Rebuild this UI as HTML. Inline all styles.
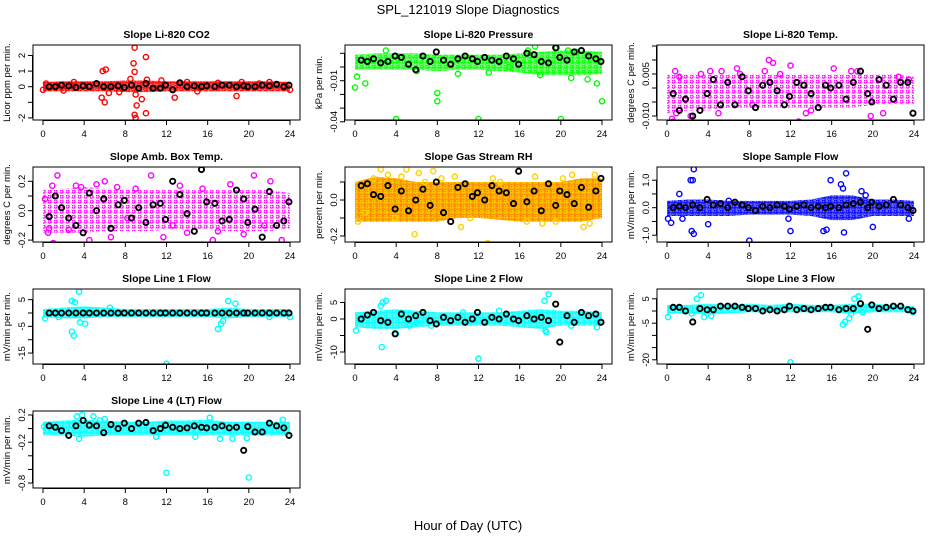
<!DOCTYPE html>
<html><head><meta charset="utf-8"><style>
html,body{margin:0;padding:0;background:#fff}
svg{display:block;font-family:"Liberation Sans",sans-serif}
</style></head><body>
<svg id="chart" width="936" height="540" viewBox="0 0 936 540">
<defs id="defs"></defs>
<text x="468" y="14" text-anchor="middle" font-size="13">SPL_121019  Slope Diagnostics</text>
<text x="468" y="530" text-anchor="middle" font-size="13">Hour of Day (UTC)</text>
</svg>
<script>
const hourTicks=[0,4,8,12,16,20,24];
const bandHours=[0,2,4,6,8,10,12,14,16,18,20,22,24];
const blackT=[0.6,1.2,1.8,2.5,3.2,3.9,4.5,5.2,5.9,6.6,7.3,7.9,8.6,9.3,10,10.7,11.4,11.9,12.6,13.3,14,14.7,15.4,15.9,16.7,17.4,18.1,18.8,19.5,19.9,20.6,21.3,22,22.7,23.4,23.9];

// Panel 1 CO2
const p1Lo=[-0.3,-0.3,-0.3,-0.3,-0.35,-0.35,-0.3,-0.3,-0.3,-0.3,-0.3,-0.3,-0.3];
const p1Hi=[0.3,0.35,0.35,0.35,0.4,0.4,0.35,0.35,0.35,0.35,0.35,0.35,0.3];
const p1CT=[0,0.3,2,5.8,6.1,5.7,6,8.9,8.8,8.9,10,9,9.1,8.9,9,10,9.6,8.5,11.5,12.8,18.8,19.3,6.4,7.4,10.1,14,17,22,24,3,15,21];
const p1CV=[-0.2,0.2,-0.25,1.0,1.1,-0.7,-1.0,2.5,1.5,0.95,1.9,-0.5,-1.2,-1.8,-2.0,-1.7,-0.8,0.5,0.4,-0.7,-0.6,0.3,-0.4,-0.35,0.45,0.3,0.25,0.3,-0.2,0.3,-0.3,0.2];
const p1BV=[0,0,0.1,0.05,-0.05,0.05,0,0.2,0,0,0.05,-0.05,0.1,-0.1,0.2,-0.1,-0.1,0.1,-0.2,0.25,0,0.05,0,0.05,0,0.1,0.1,0,0.05,0,0,0.1,0.05,0.15,0,0.1];

// Panel 2 Pressure
const p2Lo=[-0.002,-0.002,-0.002,-0.002,-0.003,-0.002,-0.002,-0.003,-0.004,-0.006,-0.006,-0.006,-0.005];
const p2Hi=[0.009,0.010,0.010,0.010,0.009,0.009,0.009,0.009,0.010,0.011,0.012,0.012,0.011];
const p2CT=[0,0.2,1,4,4,8,8,12,20,24,17.5,16.8,20.7,21.5,19.6,22.8,23.5,6,10,13,15,18,21,22.6,3];
const p2CV=[-0.015,-0.007,-0.012,-0.038,-0.038,-0.019,-0.025,-0.038,-0.038,-0.025,0.015,0.012,0.012,0.011,0.014,0.008,-0.012,-0.003,-0.005,-0.004,0.0,-0.006,-0.008,-0.009,0.012];
const p2BV=[0.005,0.004,0.006,0.003,0.004,0.008,0.007,0.002,-0.002,0.008,0.004,0.011,0.005,0.002,0.006,0.008,0.006,0.004,0.007,0.005,0.004,0.008,0.006,0.002,0.01,0.009,0.004,0.003,0.014,0.007,0.005,0.011,0.012,0.008,0.006,0.004];

// Panel 3 Li-820 Temp
const p3Lo=[-0.009,-0.008,-0.008,-0.007,-0.007,-0.007,-0.007,-0.007,-0.007,-0.007,-0.006,-0.006,-0.006];
const p3Hi=[0.005,0.005,0.005,0.005,0.005,0.005,0.005,0.005,0.005,0.005,0.005,0.005,0.004];
const p3CT=[0.2,0.5,0.8,1.2,0.6,4.2,5.3,6.8,7.1,9.5,9.9,10.3,12,12.8,14,15.9,16.2,17.9,0.9,2.3,5,8.3,11,13.5,18.5,21,22.5,23.5,3.3,19.8];
const p3CV=[-0.014,-0.011,0.006,0.004,-0.012,0.006,0.006,0.007,0.005,0.006,0.010,0.009,0.008,-0.012,-0.008,-0.013,0.007,0.006,-0.009,-0.01,-0.009,-0.006,0.005,-0.009,0.006,-0.009,0.004,0.003,0.005,-0.010];
const p3BV=[-0.002,-0.008,-0.004,-0.01,-0.008,-0.002,0.003,-0.006,0.002,-0.006,0.004,-0.001,-0.007,0.001,0.002,-0.001,-0.006,-0.003,0.002,0.001,-0.002,-0.007,0.001,0.0,0.001,-0.004,0.002,0.006,-0.002,-0.005,0.003,0.001,-0.004,0.002,0.002,-0.009];

// Panel 4 Amb Box Temp
const p4Lo=[-0.15,-0.15,-0.15,-0.14,-0.14,-0.14,-0.13,-0.13,-0.13,-0.14,-0.14,-0.14,-0.12];
const p4Hi=[0.15,0.15,0.16,0.15,0.15,0.14,0.14,0.14,0.14,0.14,0.14,0.14,0.12];
const p4CT=[0.2,0.6,1,0.9,1.4,2.5,3.2,4.5,5.2,6.6,7.2,10.5,11.7,12.6,13.3,14,15.5,17,18.2,20.5,21.5,23.2,0.5,3.7,9,16.5,19.5,22.1,8.2,6];
const p4CV=[0.08,-0.12,-0.22,0.17,0.24,-0.13,0.17,-0.2,0.18,-0.18,0.16,0.24,-0.18,-0.1,0.17,-0.15,0.15,-0.14,0.18,0.24,-0.1,-0.2,-0.15,0.16,0.15,-0.2,-0.16,0.2,-0.05,0.2];
const p4BV=[-0.04,0.1,0.02,-0.05,-0.1,-0.15,0.12,0,0.08,-0.12,0.04,0.07,-0.05,0.02,-0.08,0.04,0.05,-0.06,0.2,0.11,-0.02,-0.14,0.28,0.06,0.05,-0.07,-0.06,0.14,0.08,-0.08,0.01,-0.18,0.13,-0.1,-0.07,0.06];

// Panel 5 RH
const p5Lo=[-0.12,-0.12,-0.12,-0.12,-0.12,-0.1,-0.1,-0.11,-0.12,-0.12,-0.12,-0.12,-0.1];
const p5Hi=[0.1,0.13,0.12,0.1,0.1,0.1,0.1,0.1,0.1,0.1,0.1,0.12,0.12];
const p5CT=[0.3,1.8,2.5,3.2,4.5,5.8,6.2,6.8,7.6,8.4,10.3,12.9,13.4,14.1,18.2,19.5,21.1,22.8,23.3,22.2,5,1,3.9,9.7,11.2,16.7,20.2,17.5];
const p5CV=[-0.12,0.12,0.17,0.14,0.13,-0.19,0.15,0.1,0.16,0.12,-0.15,-0.24,0.12,0.1,-0.13,-0.12,0.14,-0.13,0.14,-0.15,0.17,-0.07,-0.1,0.13,-0.1,-0.12,0.12,0.13];
const p5BV=[0.08,0.09,0.03,0.02,0.08,-0.05,0.05,-0.06,0.0,0.06,-0.03,0.1,-0.07,-0.12,0.07,0.09,0.02,0.04,0.0,0.08,0.05,0.04,-0.02,0.16,-0.01,0.05,-0.06,0.09,-0.03,0.05,0.03,-0.02,0.07,-0.04,0.05,0.12];

// Panel 6 Sample Flow
const p6Lo=[-0.3,-0.3,-0.3,-0.3,-0.25,-0.25,-0.25,-0.3,-0.45,-0.45,-0.3,-0.3,-0.3];
const p6Hi=[0.25,0.3,0.3,0.25,0.25,0.25,0.25,0.3,0.45,0.45,0.3,0.3,0.25];
const p6CT=[0.1,0.4,1.2,2.3,2.5,2.6,2.4,2.6,4,8,12,15.5,15.9,15.2,16.9,17.1,17.4,17.2,18.9,20,1.5,11.8,19.3,23.5,6];
const p6CV=[-0.4,-0.55,0.5,1.0,1.0,1.4,-0.85,-0.95,-0.6,-1.2,-0.85,-0.8,1.0,-0.85,0.85,0.7,1.25,-0.9,0.6,-0.7,-0.4,-0.4,0.45,-0.4,0.25];
const p6BV=[0.0,0.05,0.0,0.1,0.0,0.3,0.1,0.15,0.0,0.2,0.1,0.0,-0.1,0.05,0.0,0.1,0.05,-0.05,0.05,0.1,0.0,0.05,0.0,0.05,0.0,0.1,0.15,0.2,0.0,0.2,0.05,0.1,0.3,0.1,0.0,-0.1];

// Panel 7 Line 1 Flow
const p7Lo=[-1.5,-2,-2,-1.5,-1.5,-1.5,-1.5,-1.5,-1.5,-2,-1.5,-1.5,-1.5];
const p7Hi=[1.5,2,2.5,2,1.5,1.5,1.5,1.5,1.5,2,1.5,1.5,1.5];
const p7CT=[2.8,3.1,3.5,2.8,3.0,3.6,4.1,12,17,17.3,18,18.7,17.5,0.2,24,1.5,6.5,22];
const p7CV=[4.5,4,8,-7,-8.5,-3.5,-4,-19,-6,-4,4.5,3.5,-3,-2,-1.5,-1.5,2,-1.5];
const p7BV=[0,0,0,0,0,0,0,0,0,0,0,0,0,0,0,0,0,0,0,0,0,0,0,0,0,0,0,0,0,0,0,0,0,0,0,0];

// Panel 8 Line 2 Flow
const p8Lo=[-2.5,-3,-3,-2.5,-2,-2,-2,-2,-2.5,-3,-2,-2,-2];
const p8Hi=[2,2.5,3,2.5,2,2,2,2,2.5,3,2.5,2.5,2];
const p8CT=[0.1,2.5,2.7,3,2.6,4,5.3,7.4,12,18.5,18.8,18.4,18.6,6,21,23.5,10.5,14];
const p8CV=[-3.5,4,5,5.5,-8.5,-4.5,-2,-2,-12,-3.5,7.5,5.5,-4,-1,-2,-2.5,2,2.5];
const p8BV=[0,1.2,2,-0.5,-1,-4.5,1.5,0,1,2,-0.5,-1.5,0.5,-0.5,0.5,-1,0,2,-1,0.5,0,1.5,0,-0.5,1,0,0.5,-0.5,4.5,-7,1,-1,2,1,1.5,-1];

// Panel 9 Line 3 Flow
const p9Lo=[-1,-1,-1.5,-1,-0.5,-0.5,-0.5,-0.5,-0.5,-1,-0.5,-0.5,-0.5];
const p9Hi=[2.5,2.5,3,2.5,3,2.5,3,2.5,2.5,3,3,2.5,2];
const p9CT=[0.1,2.9,3.3,3.6,4.3,12,17.1,17.3,17.7,17.9,18.2,18.6,2.4,19,23.9];
const p9CV=[-2.5,5,6.5,-2.5,-2,-21,-5.5,-4.5,-3,-1,5,6,-1,-0.5,-0.5];
const p9BV=[1.5,1.5,0,-4.5,1,0.5,0.5,2,2,2,1.5,1,1,0,0.5,0,0.5,2,0.5,1,0.5,1,1.5,1.5,0.5,1,1,3,-7.5,2.5,1,1.5,2,2,0.5,0];

// Panel 10 Line 4 (LT) Flow
const p10Lo=[-0.1,-0.1,-0.12,-0.1,-0.1,-0.1,-0.1,-0.1,-0.1,-0.1,-0.1,-0.1,-0.1];
const p10Hi=[0.1,0.12,0.13,0.12,0.1,0.1,0.12,0.12,0.13,0.1,0.1,0.1,0.1];
const p10CT=[0.1,2.8,3.3,3.8,4,4.9,5.5,6,11,12,16.2,17.2,19.8,20,23.3,3.5,14.8,18.4];
const p10CV=[0.03,0.05,0.18,0.2,-0.95,0.18,0.12,0.14,-0.12,-0.65,0.16,-0.15,-0.14,-0.72,0.13,-0.15,-0.12,-0.15];
const p10BV=[0.04,0.02,-0.03,-0.1,0.04,0.12,0.05,0.04,-0.06,0.06,0,0.08,0,0.08,0.09,-0.03,0,0.05,0.02,0,0.01,0.04,0.02,0.01,0.02,0.04,0.01,0.02,-0.32,0.03,-0.05,-0.05,0.08,0.04,0.01,-0.1];

const panels=[
 {name:'co2',title:'Slope Li-820 CO2',ylab:'Licor ppm per min.',c:0,r:0,col:'#ff0000',y0:86.7,s:15.6,ticks:[-2,-1,0,1,2],labs:['-2','','0','1','2'],lo:p1Lo,hi:p1Hi,ct:p1CT,cv:p1CV,bv:p1BV,dense:0.75},
 {name:'pressure',title:'Slope Li-820 Pressure',ylab:'kPa per min.',c:1,r:0,col:'#00ff00',y0:67,s:1370,ticks:[0.01,0,-0.01,-0.02,-0.03,-0.04],labs:['','','-0.01','','','-0.04'],lo:p2Lo,hi:p2Hi,ct:p2CT,cv:p2CV,bv:p2BV,dense:0.6},
 {name:'licor-temp',title:'Slope Li-820 Temp.',ylab:'degrees C per min.',c:2,r:0,col:'#ff00ff',y0:88,s:2800,ticks:[0.015,0.01,0.005,0,-0.005,-0.01],labs:['','','0.005','','','-0.010'],lo:p3Lo,hi:p3Hi,ct:p3CT,cv:p3CV,bv:p3BV,dense:0.25},
 {name:'amb-box-temp',title:'Slope Amb. Box Temp.',ylab:'degrees C per min.',c:0,r:1,col:'#ff00ff',y0:210.7,s:147,ticks:[0.2,0.1,0,-0.1,-0.2],labs:['0.2','','0.0','','-0.2'],lo:p4Lo,hi:p4Hi,ct:p4CT,cv:p4CV,bv:p4BV,dense:0.25},
 {name:'gas-rh',title:'Slope Gas Stream RH',ylab:'percent per min.',c:1,r:1,col:'#ffd000',back:'#ff8a00',y0:200,s:180,ticks:[0.1,0,-0.1,-0.2],labs:['','0.0','','-0.2'],lo:p5Lo,hi:p5Hi,ct:p5CT,cv:p5CV,bv:p5BV,dense:0.45},
 {name:'sample-flow',title:'Slope Sample Flow',ylab:'mV/min per min.',c:2,r:1,col:'#0000ff',y0:207.7,s:27.5,ticks:[1,0.5,0,-0.5,-1],labs:['1.0','','0.0','','-1.0'],lo:p6Lo,hi:p6Hi,ct:p6CT,cv:p6CV,bv:p6BV,dense:0.7},
 {name:'line1-flow',title:'Slope Line 1 Flow',ylab:'mV/min per min.',c:0,r:2,col:'#00ffff',y0:313,s:2.67,ticks:[5,0,-5,-10,-15],labs:['5','','-5','','-15'],lo:p7Lo,hi:p7Hi,ct:p7CT,cv:p7CV,bv:p7BV,dense:0.75},
 {name:'line2-flow',title:'Slope Line 2 Flow',ylab:'mV/min per min.',c:1,r:2,col:'#00ffff',y0:319,s:3.3,ticks:[5,0,-5,-10],labs:['5','0','','-10'],lo:p8Lo,hi:p8Hi,ct:p8CT,cv:p8CV,bv:p8BV,dense:0.75},
 {name:'line3-flow',title:'Slope Line 3 Flow',ylab:'mV/min per min.',c:2,r:2,col:'#00ffff',y0:311,s:2.44,ticks:[5,0,-5,-10,-15,-20],labs:['5','','-5','','','-20'],lo:p9Lo,hi:p9Hi,ct:p9CT,cv:p9CV,bv:p9BV,dense:0.75},
 {name:'line4-flow',title:'Slope Line 4 (LT) Flow',ylab:'mV/min per min.',c:0,r:3,col:'#00ffff',y0:428.6,s:68,ticks:[0.2,0,-0.2,-0.4,-0.6,-0.8],labs:['0.2','','-0.2','','','-0.8'],lo:p10Lo,hi:p10Hi,ct:p10CT,cv:p10CV,bv:p10BV,dense:0.75}
];

const svg=document.getElementById('chart');
const defs=document.getElementById('defs');
const NS='http://www.w3.org/2000/svg';
function mk(tag,attrs,parent){const e=document.createElementNS(NS,tag);for(const k in attrs)e.setAttribute(k,attrs[k]);(parent||svg).appendChild(e);return e;}

panels.forEach(p=>{
 const bx0=33+312*p.c, bx1=bx0+267, by0=45+122*p.r, by1=by0+(p.r===3?77:75);
 const X=h=>bx0+10+h*(247/24);
 const Y=v=>p.y0-v*p.s;
 const pat=mk('pattern',{id:'pat'+p.name,width:6,height:5,patternUnits:'userSpaceOnUse'},defs);
 mk('rect',{width:6,height:5,fill:p.back||'#fff'},pat);
 mk('circle',{cx:1.5,cy:1.5,r:1.6,fill:'none',stroke:p.col,'stroke-width':1.2},pat);
 mk('circle',{cx:4.5,cy:4,r:1.6,fill:'none',stroke:p.col,'stroke-width':1.2,opacity:p.dense},pat);
 if(p.dense>0.5) mk('rect',{width:6,height:5,fill:p.col,opacity:p.dense-0.1},pat);
 const g=mk('g',{});
 
 
 const cp=mk('clipPath',{id:'cp'+p.name},g);
 mk('rect',{x:bx0,y:by0,width:bx1-bx0,height:by1-by0},cp);
 const t=mk('text',{x:(bx0+bx1)/2,y:by0-7,'text-anchor':'middle','font-size':10.5,'font-weight':'bold'},g);
 t.textContent=p.title;
 
 
 const yl=mk('text',{transform:`translate(${bx0-23},${(by0+by1)/2}) rotate(-90)`,'text-anchor':'middle','font-size':9.5},g);
 yl.textContent=p.ylab;
 
 
 const plot=mk('g',{'clip-path':`url(#cp${p.name})`},g);
 
 
 let pts=bandHours.map((h,i)=>X(h)+','+Y(p.hi[i]));
 pts=pts.concat(bandHours.map((h,i)=>X(h)+','+Y(p.lo[i])).reverse());
 const band=mk('polygon',{points:pts.join(' '),fill:`url(#pat${p.name})`},plot);
 
 
 p.ct.forEach((h,i)=>{
  const c=mk('circle',{cx:X(h),cy:Y(p.cv[i]),r:2.6,fill:'none',stroke:p.col,'stroke-width':1.4},plot);
  
  
 });
 blackT.forEach((h,i)=>{
  const c=mk('circle',{cx:X(h),cy:Y(p.bv[i]),r:2.6,fill:'none',stroke:'#000','stroke-width':1.9},plot);
  
  
 });
 const box=mk('rect',{x:bx0,y:by0,width:bx1-bx0,height:by1-by0,fill:'none',stroke:'#000','stroke-width':1},g);
 
 
 mk('line',{x1:X(0),x2:X(24),y1:by1+0.5,y2:by1+0.5,stroke:'#000'},g);
 hourTicks.forEach(h=>{
  mk('line',{x1:X(h),x2:X(h),y1:by1,y2:by1+5,stroke:'#000'},g);
  const l=mk('text',{x:X(h),y:by1+17,'text-anchor':'middle','font-size':9.5},g);
  l.textContent=h;
  
  
 });
 mk('line',{x1:bx0-0.5,x2:bx0-0.5,y1:Y(p.ticks[0]),y2:Y(p.ticks[p.ticks.length-1]),stroke:'#000'},g);
 p.ticks.forEach((v,i)=>{
  mk('line',{x1:bx0-5,x2:bx0,y1:Y(v),y2:Y(v),stroke:'#000'},g);
  if(p.labs[i]){
   const l=mk('text',{transform:`translate(${bx0-8},${Y(v)}) rotate(-90)`,'text-anchor':'middle','font-size':9.5},g);
   l.textContent=p.labs[i];
   
   
  }
 });
});
</script>
</body></html>
